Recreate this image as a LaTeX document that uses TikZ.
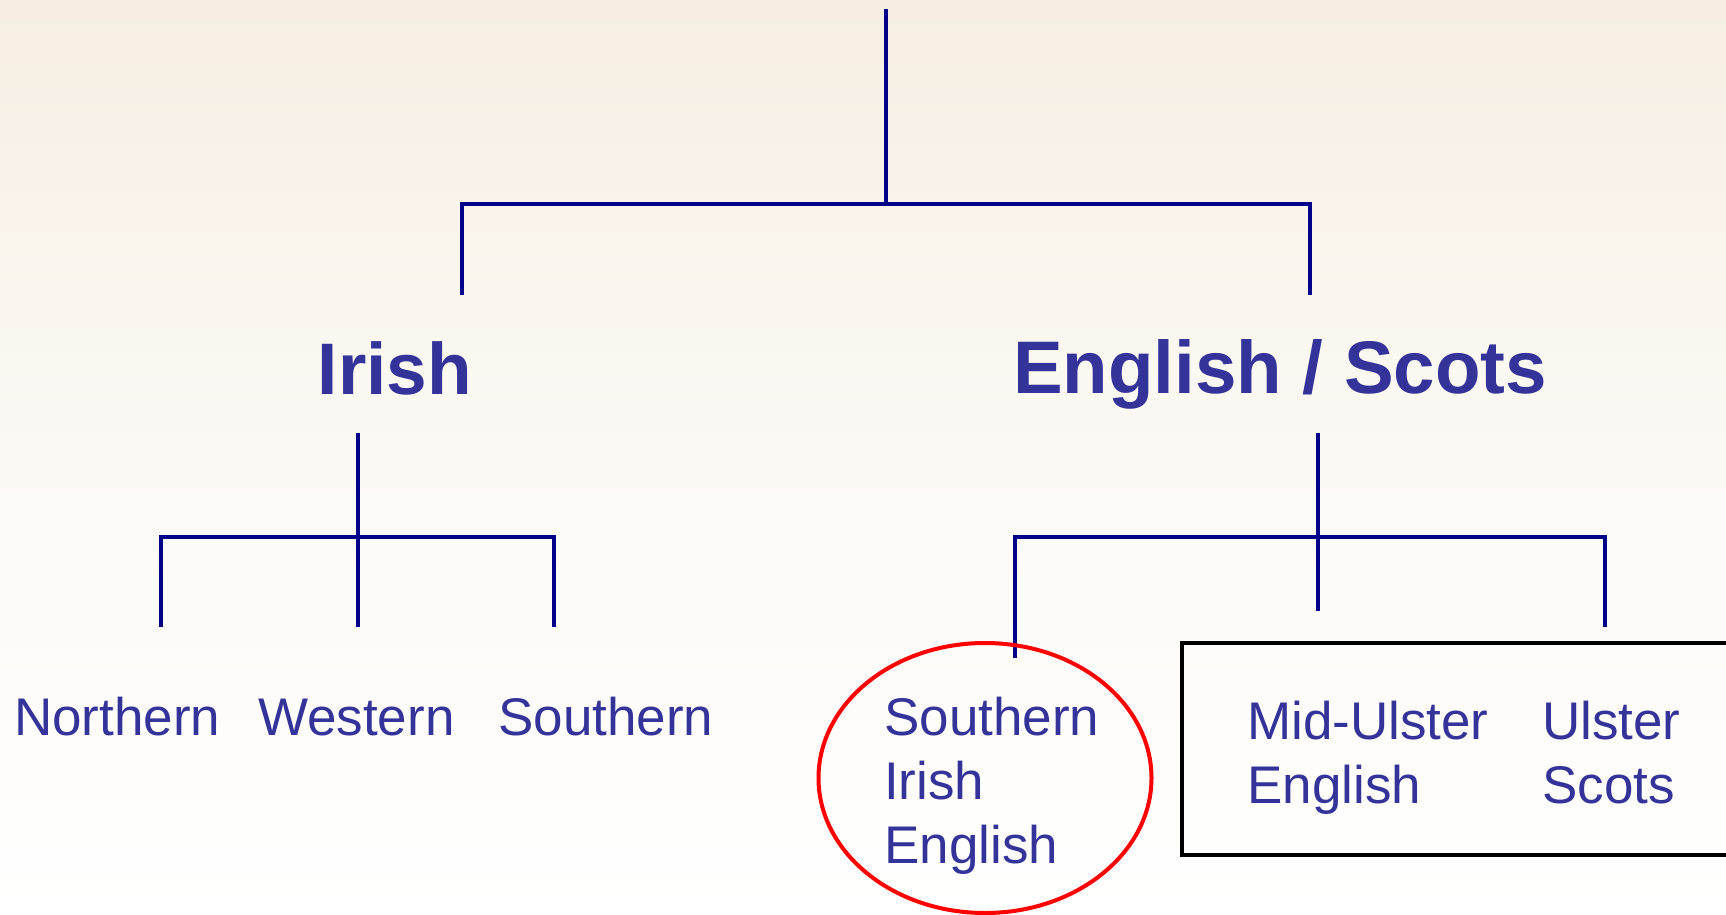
\documentclass[tikz,border=0pt]{standalone}
\usepackage{fontspec}
\setmainfont{Liberation Sans}
\usetikzlibrary{shapes.geometric}
\definecolor{txtblue}{HTML}{333399}
\definecolor{linenavy}{HTML}{000088}
\definecolor{bgtop}{HTML}{F6EEE2}
\tikzset{
  treeline/.style={draw=linenavy, line width=4pt},
  bigtxt/.style={text=txtblue, font=\fontsize{73}{80}\selectfont\bfseries, inner sep=0pt, anchor=base},
  smalltxt/.style={text=txtblue, font=\fontsize{53}{64}\selectfont, inner sep=0pt, anchor=base west},
}
\begin{document}
\begin{tikzpicture}[x=1pt,y=-1pt]
\useasboundingbox (0,0) rectangle (1726,915);
\clip (0,0) rectangle (1726,915);
\shade[top color=bgtop, bottom color=white, middle color=bgtop!35] (0,0) rectangle (1726,915);

% headings
\node[bigtxt] (irish) at (395,394) {Irish};
\node[bigtxt, font=\fontsize{74.5}{80}\selectfont\bfseries] (engsc) at (1280,393) {English / Scots};

% leaves
\node[smalltxt] (north) at (14,735) {Northern};
\node[smalltxt] (west) at (258,735) {Western};
\node[smalltxt] (south) at (498,735) {Southern};
\node[smalltxt] (sie1) at (884,735) {Southern};
\node[smalltxt] (sie2) at (884,799) {Irish};
\node[smalltxt] (sie3) at (884,863) {English};
\node[smalltxt] (mue1) at (1247,739) {Mid-Ulster};
\node[smalltxt] (mue2) at (1247,803) {English};
\node[smalltxt] (us1) at (1542,739) {Ulster};
\node[smalltxt] (us2) at (1542,803) {Scots};

% top tree
\coordinate (top) at (886,9);
\coordinate (j0) at (886,204);
\coordinate (j0l) at (462,204);
\coordinate (j0r) at (1310,204);
\coordinate (e0l) at (462,295);
\coordinate (e0r) at (1310,295);
\draw[treeline] (top) -- (j0);
\draw[treeline] (e0l) -- (j0l) -- (j0r) -- (e0r);

% Irish subtree
\coordinate (i0) at (358,433);
\coordinate (i1) at (358,537);
\coordinate (i1l) at (161,537);
\coordinate (i1r) at (554,537);
\coordinate (il) at (161,627);
\coordinate (im) at (358,627);
\coordinate (ir) at (554,627);
\draw[treeline] (i0) -- (im);
\draw[treeline] (il) -- (i1l) -- (i1r) -- (ir);

% English/Scots subtree
\coordinate (s0) at (1318,433);
\coordinate (s1l) at (1015,537);
\coordinate (s1r) at (1605,537);
\coordinate (sl) at (1015,658);
\coordinate (sm) at (1318,611);
\coordinate (sr) at (1605,627);
\draw[treeline] (s0) -- (sm);
\draw[treeline] (sl) -- (s1l) -- (s1r) -- (sr);

% highlight ellipse and box
\node[draw=red, line width=4pt, ellipse, minimum width=333pt, minimum height=270pt, inner sep=0pt] (circ) at (985,778) {};
\draw[black, line width=4.5pt] (1760,643) -- (1182,643) -- (1182,855) -- (1760,855);
\end{tikzpicture}
\end{document}
